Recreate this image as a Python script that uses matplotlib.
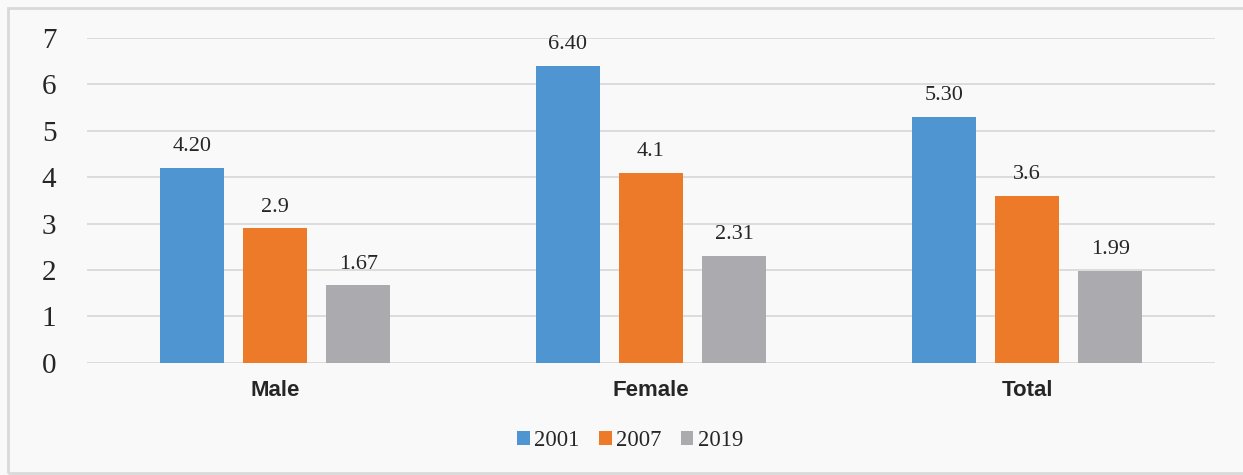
import numpy as np
import matplotlib.pyplot as plt
from matplotlib.patches import Rectangle

groups = ['Male', 'Female', 'Total']
years = ['2001', '2007', '2019']
v2001 = [4.20, 6.40, 5.30]
v2007 = [2.9, 4.1, 3.6]
v2019 = [1.67, 2.31, 1.99]
labels2001 = ['4.20', '6.40', '5.30']
labels2007 = ['2.9', '4.1', '3.6']
labels2019 = ['1.67', '2.31', '1.99']

colors = ['#4F95D2', '#EC7A28', '#ABABAF']
serif = 'Liberation Serif'
sans = 'Liberation Sans'

fig = plt.figure(figsize=(12.43, 4.75), dpi=100, facecolor='#F9F9F9')
# frame on left, top and bottom; right side runs off the canvas
fig.patches.append(Rectangle((0.0065, 0.004), 1.02, 0.98, transform=fig.transFigure,
                             fill=False, edgecolor='#D9D9D9', linewidth=2))
ax = fig.add_axes([0.07, 0.236, 0.9075, 0.684])
ax.set_facecolor('#F9F9F9')

x = np.arange(len(groups))
w = 0.172
step = 0.221
series = [(v2001, labels2001), (v2007, labels2007), (v2019, labels2019)]
for i, (vals, labs) in enumerate(series):
    bars = ax.bar(x + (i - 1) * step, vals, w, color=colors[i], label=years[i], zorder=3)
    for b, t in zip(bars, labs):
        ax.text(b.get_x() + b.get_width() / 2, b.get_height() + 0.25, t,
                ha='center', va='bottom', fontsize=16, family=serif, color='#262626')

ax.set_xlim(-0.5, 2.5)
ax.set_ylim(0, 7)
ax.set_yticks(range(8))
ax.yaxis.grid(True, color='#D9D9D9', linewidth=1.3, zorder=0)
ax.set_axisbelow(True)
for s in ax.spines.values():
    s.set_visible(False)
ax.tick_params(axis='both', length=0)
ax.tick_params(axis='y', pad=22)
ax.tick_params(axis='x', pad=12)
ax.set_yticklabels([str(v) for v in range(8)], fontsize=21, family=serif, color='#262626')
ax.set_xticks(x)
ax.set_xticklabels(groups, fontsize=16, family=sans, fontweight='bold', color='#262626')

leg = fig.legend(loc='center', bbox_to_anchor=(0.507, 0.073), ncol=3, frameon=False,
                 prop={'family': serif, 'size': 16.3}, handlelength=0.55, handleheight=0.55,
                 handletextpad=0.2, columnspacing=0.85)
for t in leg.get_texts():
    t.set_color('#262626')

fig.savefig('out.png', dpi=100, facecolor=fig.get_facecolor())
